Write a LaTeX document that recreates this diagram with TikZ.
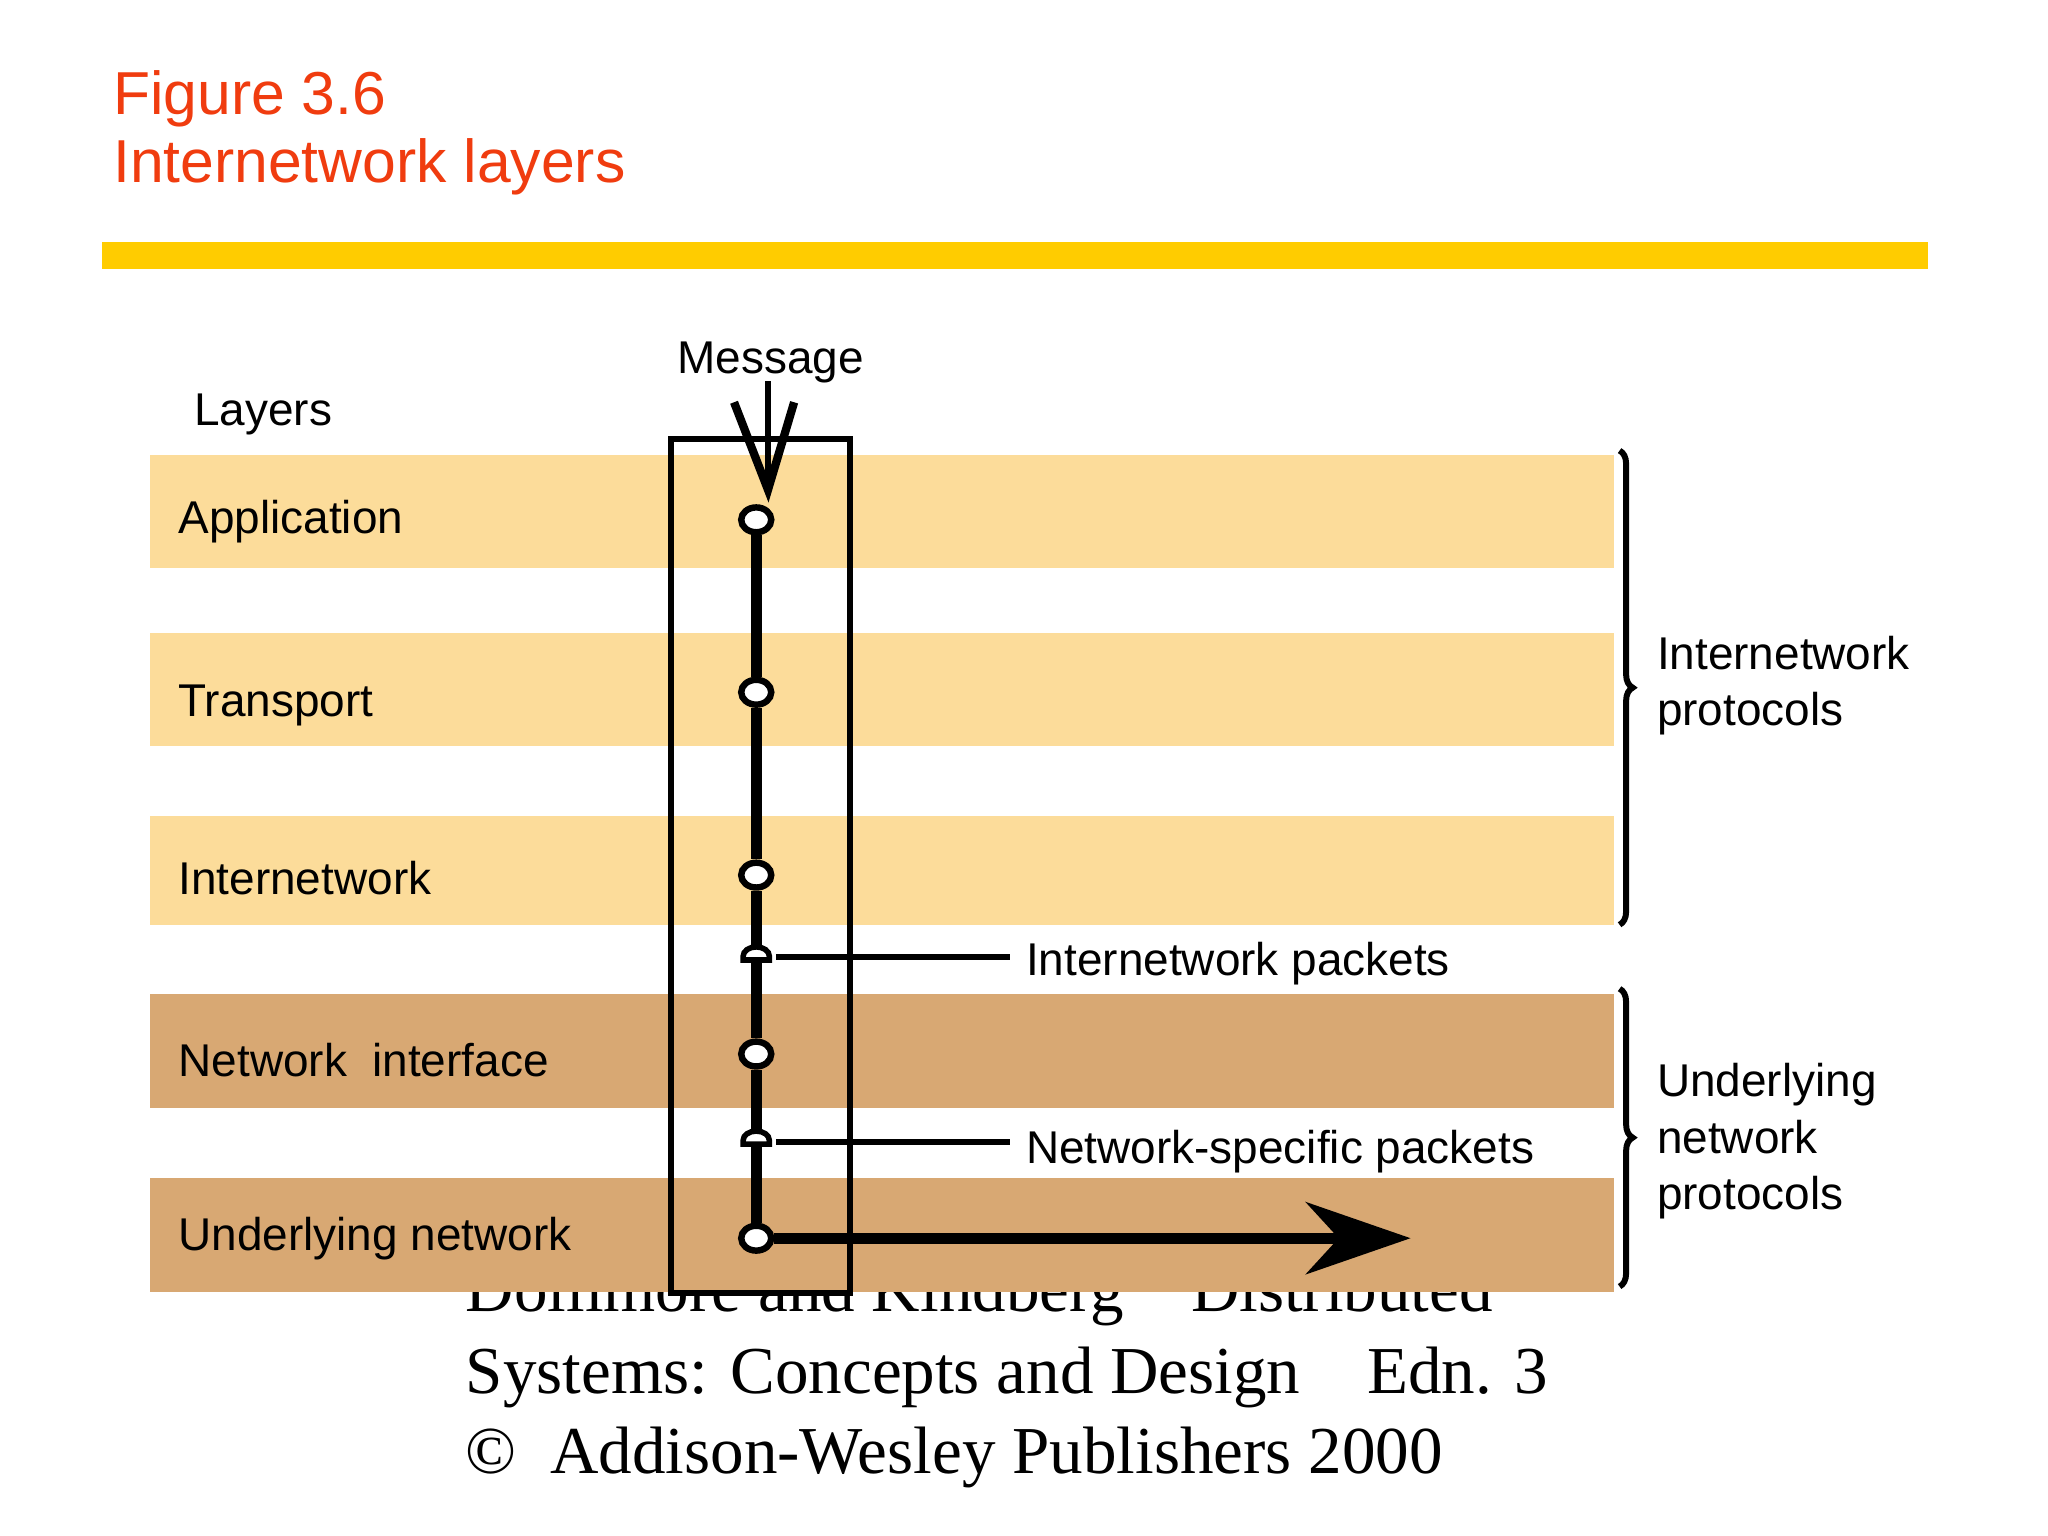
\documentclass[tikz,border=0pt]{standalone}
\usepackage{fontspec}
\setmainfont{Liberation Serif}
\newfontfamily\sansf{Liberation Sans}
\usetikzlibrary{decorations.pathreplacing,arrows.meta,shapes.geometric}
\definecolor{lightband}{HTML}{FCDC9A}
\definecolor{darkband}{HTML}{D8A873}
\definecolor{titlered}{HTML}{F03C0F}
\definecolor{goldbar}{HTML}{FFCC00}
\begin{document}
\begin{tikzpicture}[x=0.01cm,y=-0.01cm,
  lab/.style={font=\sansf\fontsize{10pt}{12.3pt}\selectfont,anchor=west,inner sep=0},
  oct/.style={draw=black,fill=white,line width=1.4pt,ellipse,minimum width=0.23cm,minimum height=0.19cm,inner sep=0},
  brc/.style={decorate,decoration={brace,amplitude=0.1cm},line width=1.3pt}]
\useasboundingbox[fill=white] (0,0) rectangle (1568,1176);
\node[anchor=base west,inner sep=0,text=titlered,font=\sansf\fontsize{13.2pt}{16pt}\selectfont] (t1) at (86,88) {Figure 3.6};
\node[anchor=base west,inner sep=0,text=titlered,font=\sansf\fontsize{13.2pt}{16pt}\selectfont] (t2) at (86,140) {Internetwork layers};
\fill[fill=goldbar] (78,185) rectangle (1476,206);
% bottom text (partly hidden)
\begin{scope}[every node/.style={anchor=base west,inner sep=0,font=\fontsize{14.6pt}{18pt}\selectfont}]
\node (c1) at (356,1004) {Dollimore and Kindberg\quad Distributed};
\node (c2) at (356,1067) {Systems: Concepts and Design\quad Edn. 3};
\node (c3) at (356,1128) {\textcopyright\ \ Addison-Wesley Publishers 2000};
\end{scope}
% bands
\fill[lightband] (115,348) rectangle (1236,435);
\fill[lightband] (115,485) rectangle (1236,571);
\fill[lightband] (115,625) rectangle (1236,708);
\fill[darkband] (115,761) rectangle (1236,848);
\fill[darkband] (115,902) rectangle (1236,989);
\node[lab] (l1) at (136,399) {Application};
\node[lab] (l2) at (136,540) {Transport};
\node[lab] (l3) at (136,672) {Internetwork};
\node[lab] (l4) at (136,812) {Network\ \ interface};
\node[lab] (l5) at (136,948) {Underlying network};
\node[lab,anchor=base west] (ly) at (148,326) {Layers};
\node[lab,anchor=base] (msg) at (590,286) {Message};
% box
\draw[line width=1.3pt] (514,336) rectangle (651,990);
% stack
\coordinate (m0) at (588,292);
\coordinate (mt) at (588,375);
\draw[line width=1.3pt] (m0) -- (mt);
\draw[line width=1.8pt,line join=miter] (562,308) -- (mt) -- (608,308);
\node[oct] (o1) at (579,398) {};
\node[oct] (o2) at (579,530) {};
\node[oct] (o3) at (579,670) {};
\node[oct] (o4) at (579,807) {};
\node[oct] (o5) at (579,948) {};
\coordinate (h1) at (579,733);
\coordinate (h2) at (579,874);
\draw[line width=2.4pt] (o1) -- (o2) -- (o3) -- (o4) -- (o5);
\foreach \h in {h1,h2}{
 \draw[line width=1.2pt,fill=white] ([xshift=-0.1cm,yshift=-0.02cm]\h) -- ([xshift=-0.1cm,yshift=0.01cm]\h) arc(180:0:0.1cm and 0.07cm) -- ([xshift=0.1cm,yshift=-0.02cm]\h) -- cycle;}
\coordinate (p1) at (773,733);
\coordinate (p2) at (773,874);
\draw[line width=1.3pt] ([xshift=0.15cm]h1) -- (p1);
\draw[line width=1.3pt] ([xshift=0.15cm]h2) -- (p2);
\node[lab] (pl1) at (785,738) {Internetwork packets};
\node[lab] (pl2) at (785,882) {Network-specific packets};
\coordinate (ae) at (1080,948);
\draw[line width=2.4pt,-{Stealth[length=0.8cm,width=0.55cm,inset=0.25cm]}] (o5.east) -- (ae);
% braces
\draw[brc] (1240,345) -- (1240,708);
\draw[brc] (1240,757) -- (1240,985);
\node[lab,align=left] (b1) at (1268,525) {Internetwork\\protocols};
\node[lab,align=left] (b2) at (1268,874) {Underlying\\network\\protocols};
\end{tikzpicture}
\end{document}
